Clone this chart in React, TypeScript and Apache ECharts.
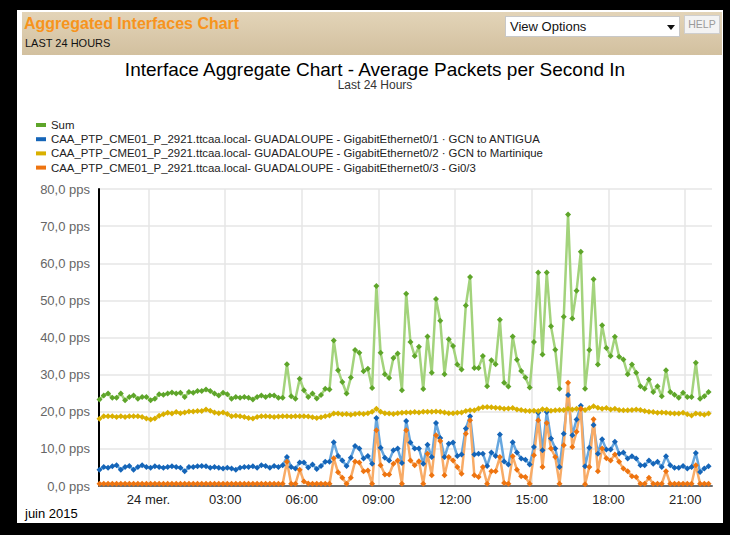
import React, { useEffect, useRef } from "react";
import * as echarts from "echarts";

// 10-minute samples starting 23 June 2015 22:05 (hours relative to midnight of 24 June)
const START_HOUR = -115 / 60;
const STEP_HOUR = 10 / 60;

const tickHours = [0, 3, 6, 9, 12, 15, 18, 21];
const tickLabels = ["24 mer.", "03:00", "06:00", "09:00", "12:00", "15:00", "18:00", "21:00"];

const seriesNames = [
  "Sum",
  "CAA_PTP_CME01_P_2921.ttcaa.local- GUADALOUPE - GigabitEthernet0/1 · GCN to ANTIGUA",
  "CAA_PTP_CME01_P_2921.ttcaa.local- GUADALOUPE - GigabitEthernet0/2 · GCN to Martinique",
  "CAA_PTP_CME01_P_2921.ttcaa.local- GUADALOUPE - GigabitEthernet0/3 - Gi0/3",
];

const sumValues = [
  23.3, 24.4, 24.9, 23.8, 23.8, 24.9, 23.1, 24.0, 24.4, 23.5, 24.0, 24.0, 23.1, 23.5, 24.7, 24.6,
  24.9, 25.2, 24.9, 25.1, 24.0, 25.3, 25.1, 25.6, 25.6, 26.0, 25.6, 24.9, 24.4, 25.1, 24.7, 23.5,
  24.0, 23.8, 24.0, 23.8, 23.3, 24.0, 24.4, 24.0, 24.4, 24.4, 23.8, 23.8, 32.8, 24.2, 23.5, 28.9,
  25.8, 24.0, 24.9, 23.6, 24.5, 26.2, 26.0, 39.2, 31.2, 28.0, 24.9, 29.2, 36.6, 35.9, 30.9, 31.6,
  26.4, 53.9, 35.9, 30.1, 29.1, 34.5, 35.7, 25.8, 51.8, 38.8, 35.0, 37.5, 26.1, 40.3, 30.5, 50.4,
  44.5, 30.1, 39.5, 37.7, 32.7, 31.4, 48.6, 56.3, 31.8, 31.8, 35.0, 26.9, 33.9, 32.8, 44.8, 27.8,
  26.8, 40.3, 34.0, 31.0, 29.2, 26.5, 38.8, 57.5, 35.4, 57.5, 43.0, 36.7, 26.2, 45.6, 73.1, 45.1,
  52.6, 63.1, 26.2, 36.6, 55.7, 32.7, 43.3, 37.2, 35.0, 40.2, 34.8, 34.1, 30.1, 32.7, 30.5, 26.9,
  26.2, 28.7, 25.3, 26.9, 24.2, 31.2, 25.3, 24.6, 23.8, 25.1, 24.0, 24.0, 33.2, 23.5, 24.2, 25.3,
];

const antiguaValues = [
  4.4, 5.1, 4.9, 5.3, 5.6, 4.4, 5.1, 5.4, 4.4, 5.1, 5.6, 5.1, 4.9, 5.3, 5.1, 4.9,
  5.1, 5.3, 5.1, 4.9, 4.0, 5.1, 5.1, 5.3, 5.4, 5.3, 4.9, 5.1, 4.9, 4.7, 4.9, 4.7,
  4.4, 4.9, 5.1, 5.1, 5.3, 4.9, 5.6, 5.4, 4.9, 5.4, 5.1, 5.6, 7.8, 5.1, 4.7, 6.3,
  6.3, 5.0, 5.8, 4.6, 5.4, 6.5, 6.5, 11.8, 8.1, 6.9, 5.4, 7.6, 10.8, 10.1, 7.4, 8.1,
  6.0, 18.3, 10.3, 7.6, 6.9, 9.6, 10.1, 6.2, 17.5, 11.7, 10.1, 10.1, 6.0, 11.1, 7.8, 17.0,
  12.9, 7.8, 11.4, 11.7, 8.1, 8.5, 15.5, 18.8, 8.5, 8.7, 8.7, 5.4, 9.0, 8.1, 13.9, 6.6,
  5.8, 11.8, 9.0, 7.4, 7.1, 5.8, 10.5, 19.7, 9.6, 19.9, 12.8, 10.1, 5.1, 14.1, 24.5, 13.7,
  17.9, 21.6, 5.3, 10.3, 16.4, 8.7, 12.6, 9.8, 9.8, 11.9, 8.7, 9.0, 7.4, 8.0, 7.4, 5.6,
  5.6, 6.9, 6.0, 6.5, 5.1, 8.0, 5.6, 4.9, 4.9, 5.4, 4.7, 5.1, 8.9, 3.8, 4.7, 5.3,
];

const martiniqueValues = [
  18.1, 18.8, 18.8, 18.8, 18.6, 18.8, 18.6, 18.8, 18.8, 18.8, 18.6, 18.2, 17.9, 18.2, 18.9, 19.3,
  19.7, 19.5, 19.9, 19.6, 19.8, 20.1, 20.1, 20.2, 20.2, 20.6, 20.3, 19.8, 19.6, 19.8, 19.4, 18.8,
  18.9, 18.8, 18.6, 18.3, 18.2, 18.6, 18.8, 18.8, 18.7, 18.6, 18.7, 18.8, 18.8, 18.7, 18.8, 18.8,
  18.8, 18.7, 18.5, 18.3, 18.5, 18.8, 19.0, 19.5, 19.5, 19.3, 19.4, 19.2, 19.4, 19.5, 19.4, 19.6,
  20.0, 20.8, 20.0, 19.6, 19.5, 19.4, 19.6, 19.7, 19.8, 19.8, 19.9, 19.8, 20.0, 20.0, 20.0, 20.1,
  20.0, 19.8, 19.6, 19.6, 19.7, 19.8, 20.2, 20.4, 20.4, 20.9, 21.2, 21.3, 21.2, 21.1, 21.0, 20.8,
  20.9, 21.0, 20.6, 20.5, 20.3, 20.2, 20.3, 20.2, 20.7, 20.6, 20.3, 20.4, 20.5, 20.5, 20.8, 20.6,
  20.8, 20.8, 20.5, 21.0, 21.5, 21.1, 20.8, 21.0, 20.6, 20.8, 20.5, 20.4, 20.4, 20.5, 20.6, 20.5,
  20.2, 20.0, 19.9, 19.7, 19.8, 19.7, 19.6, 19.5, 19.5, 19.7, 19.3, 19.0, 19.5, 19.4, 19.2, 19.5,
];

const gi03Values = [
  0.6, 0.6, 0.6, 0.6, 0.6, 0.6, 0.6, 0.6, 0.6, 0.6, 0.6, 0.6, 0.6, 0.6, 0.6, 0.6,
  0.6, 0.6, 0.6, 0.6, 0.6, 0.6, 0.6, 0.6, 0.6, 0.6, 0.6, 0.6, 0.6, 0.6, 0.6, 0.6,
  0.6, 0.6, 0.6, 0.6, 0.6, 0.6, 0.6, 0.6, 0.6, 0.6, 0.6, 0.6, 6.5, 0.6, 0.6, 4.4,
  1.2, 0.7, 0.6, 0.6, 0.6, 0.6, 0.6, 7.5, 3.7, 2.2, 0.6, 2.2, 6.6, 6.3, 4.0, 4.2,
  0.6, 15.0, 5.6, 3.1, 3.1, 6.0, 6.9, 0.6, 15.0, 6.9, 5.6, 6.7, 0.6, 8.7, 2.9, 13.7,
  12.1, 2.9, 7.8, 6.9, 5.1, 3.3, 14.1, 17.7, 2.9, 2.4, 5.1, 0.6, 4.0, 4.0, 7.8, 0.8,
  0.6, 8.0, 4.4, 2.6, 2.4, 0.6, 8.3, 17.7, 5.1, 17.0, 10.1, 7.8, 0.6, 11.0, 27.8, 10.5,
  14.6, 20.8, 0.5, 5.1, 18.0, 4.0, 10.1, 7.5, 6.9, 8.5, 6.5, 4.7, 4.0, 2.6, 2.4, 0.6,
  0.6, 2.2, 0.6, 0.6, 0.6, 4.0, 0.6, 0.6, 0.6, 0.6, 0.6, 0.6, 5.6, 0.6, 0.6, 0.6,
];

const FONT = "'Liberation Sans', Arial, sans-serif";

const markerColors = ["#5ea52a", "#1565b8", "#d9b000", "#ee7410"];
const lineColors = ["#a3d37c", "#66a6de", "#e8cd55", "#f8ab66"];

function buildSeries(name: string, values: number[], idx: number) {
  return {
    name,
    type: "line",
    data: values.map((v, i) => [START_HOUR + i * STEP_HOUR, v]),
    symbol: "diamond",
    symbolSize: 6,
    showSymbol: true,
    itemStyle: { color: markerColors[idx] },
    lineStyle: { color: lineColors[idx], width: 2.5 },
    emphasis: { disabled: true },
  };
}

export default function App() {
  const ref = useRef<HTMLDivElement>(null);

  useEffect(() => {
    if (!ref.current) return;
    const chart = echarts.init(ref.current, undefined, { renderer: "svg" });
    const allValues = [sumValues, antiguaValues, martiniqueValues, gi03Values];
    chart.setOption({
      animation: false,
      backgroundColor: "transparent",
      textStyle: { fontFamily: FONT },
      graphic: [
        {
          type: "text",
          x: 375,
          y: 69,
          style: {
            text: "Interface Aggregate Chart - Average Packets per Second In",
            align: "center",
            verticalAlign: "middle",
            font: `19px ${FONT}`,
            fill: "#000",
          },
        },
        {
          type: "text",
          x: 375,
          y: 85,
          style: {
            text: "Last 24 Hours",
            align: "center",
            verticalAlign: "middle",
            font: `12px ${FONT}`,
            fill: "#333",
          },
        },
        {
          type: "text",
          x: 25,
          y: 513,
          style: {
            text: "juin 2015",
            align: "left",
            verticalAlign: "middle",
            font: `13px ${FONT}`,
            fill: "#000",
          },
        },
      ],
      legend: {
        orient: "vertical",
        left: 31,
        top: 114,
        icon: "rect",
        itemWidth: 10,
        itemHeight: 4,
        itemGap: 2.2,
        selectedMode: false,
        textStyle: { fontSize: 11.4, color: "#222", fontFamily: FONT, lineHeight: 12 },
        data: seriesNames,
      },
      grid: { left: 99, top: 189, width: 613, height: 297, containLabel: false },
      xAxis: {
        type: "value",
        position: "bottom",
        min: -1.937,
        max: 22.05,
        axisLine: { show: true, onZero: false, lineStyle: { color: "#6f6f6f", width: 2 } },
        axisTick: { show: true, length: 0, customValues: tickHours },
        axisLabel: {
          customValues: tickHours,
          color: "#222",
          fontSize: 13,
          fontFamily: FONT,
          margin: 7,
          formatter: (v: number) => {
            const k = tickHours.indexOf(Math.round(v));
            return k >= 0 ? tickLabels[k] : "";
          },
        },
        splitLine: { show: true, lineStyle: { color: "#e6e6e6", width: 1.5 } },
      },
      yAxis: {
        type: "value",
        position: "left",
        min: 0,
        max: 80,
        interval: 10,
        axisLine: { show: true, onZero: false, lineStyle: { color: "#000", width: 2 } },
        axisTick: { show: false },
        axisLabel: {
          color: "#666",
          fontSize: 13,
          fontFamily: FONT,
          margin: 9,
          padding: [5, 0, 0, 0],
          formatter: (v: number) => v.toFixed(1).replace(".", ",") + " pps",
        },
        splitLine: { show: true, lineStyle: { color: "#e6e6e6", width: 1.5 } },
      },
      series: seriesNames.map((n, i) => buildSeries(n, allValues[i], i)),
    });
    return () => chart.dispose();
  }, []);

  return (
    <div
      style={{
        position: "fixed",
        left: 0,
        top: 0,
        width: 730,
        height: 535,
        background: "#000",
        overflow: "hidden",
        fontFamily: FONT,
      }}
    >
      <div style={{ position: "absolute", left: 17, top: 10, width: 706, height: 513, background: "#fff" }} />
      <div
        style={{
          position: "absolute",
          left: 22,
          top: 12,
          width: 700,
          height: 43,
          background: "linear-gradient(#e3d4b8, #d2c09f)",
        }}
      />
      <div
        style={{
          position: "absolute",
          left: 24,
          top: 15,
          fontSize: 16,
          fontWeight: "bold",
          color: "#f7941d",
          whiteSpace: "nowrap",
        }}
      >
        Aggregated Interfaces Chart
      </div>
      <div style={{ position: "absolute", left: 25, top: 37, fontSize: 11, color: "#111", whiteSpace: "nowrap" }}>
        LAST 24 HOURS
      </div>
      <div
        style={{
          position: "absolute",
          left: 505,
          top: 16,
          width: 173,
          height: 19,
          background: "#fff",
          border: "1px solid #c8c8c8",
        }}
      >
        <div style={{ position: "absolute", left: 4, top: 2, fontSize: 13, color: "#111", whiteSpace: "nowrap" }}>
          View Options
        </div>
        <div
          style={{
            position: "absolute",
            left: 161,
            top: 8,
            width: 0,
            height: 0,
            borderLeft: "4px solid transparent",
            borderRight: "4px solid transparent",
            borderTop: "5px solid #111",
          }}
        />
      </div>
      <div
        style={{
          position: "absolute",
          left: 684,
          top: 15,
          width: 34,
          height: 17,
          background: "#f3f3f3",
          border: "1px solid #cfcfcf",
          color: "#9a9a9a",
          fontSize: 10.5,
          lineHeight: "17px",
          textAlign: "center",
        }}
      >
        HELP
      </div>
      <div ref={ref} style={{ position: "absolute", left: 0, top: 0, width: 730, height: 535 }} />
    </div>
  );
}
